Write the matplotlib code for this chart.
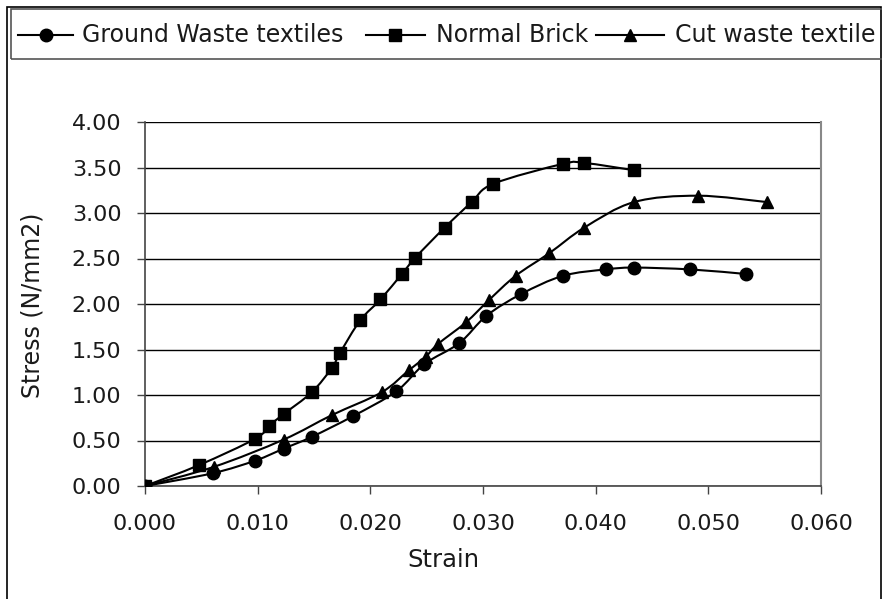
import numpy as np
import matplotlib
matplotlib.use('Agg')
import matplotlib.pyplot as plt
from matplotlib.path import Path
from matplotlib.patches import PathPatch, Rectangle
from matplotlib.lines import Line2D

plt.rcParams['font.family'] = ['DejaVu Sans']

# data
ground_strain = [0.0, 0.0060, 0.0098, 0.0123, 0.0148, 0.0185, 0.0223, 0.0248,
                 0.0279, 0.0303, 0.0334, 0.0371, 0.0409, 0.0434, 0.0484, 0.0533]
ground_stress = [0.0, 0.14, 0.28, 0.41, 0.54, 0.77, 1.04, 1.34,
                 1.57, 1.87, 2.11, 2.31, 2.38, 2.40, 2.38, 2.33]

brick_strain = [0.0, 0.0048, 0.0098, 0.0110, 0.0123, 0.0148, 0.0166, 0.0173, 0.0191,
                0.0209, 0.0228, 0.0240, 0.0266, 0.0290, 0.0309, 0.0371, 0.0390, 0.0434]
brick_stress = [0.0, 0.23, 0.52, 0.66, 0.79, 1.03, 1.30, 1.46, 1.82,
                2.05, 2.33, 2.51, 2.84, 3.12, 3.32, 3.54, 3.55, 3.47]

cut_strain = [0.0, 0.0061, 0.0123, 0.0166, 0.0210, 0.0234, 0.0249, 0.0260,
              0.0285, 0.0305, 0.0329, 0.0359, 0.0390, 0.0434, 0.0491, 0.0552]
cut_stress = [0.0, 0.21, 0.51, 0.78, 1.03, 1.27, 1.42, 1.56,
              1.80, 2.04, 2.31, 2.56, 2.84, 3.12, 3.19, 3.12]

series_names = ['Ground Waste textiles', 'Normal Brick', 'Cut waste textile']
series_markers = ['o', 's', '^']

x_ticks = [0.0, 0.01, 0.02, 0.03, 0.04, 0.05, 0.06]
y_ticks = [0.0, 0.5, 1.0, 1.5, 2.0, 2.5, 3.0, 3.5, 4.0]

W, H = 882, 599


def fx(px):
    return px / W


def fy(py):
    return 1 - py / H


def smooth_path(x, y):
    # smoothed line like the spreadsheet "smoothed line" option
    p = np.column_stack([x, y]).astype(float)
    ext = np.vstack([p[0], p, p[-1]])
    verts = [p[0]]
    codes = [Path.MOVETO]
    for i in range(len(p) - 1):
        p0, p1, p2, p3 = ext[i], ext[i + 1], ext[i + 2], ext[i + 3]
        c1 = p1 + (p2 - p0) / 6.0
        c2 = p2 - (p3 - p1) / 6.0
        verts += [c1, c2, p2]
        codes += [Path.CURVE4] * 3
    return Path(verts, codes)


fig = plt.figure(figsize=(W / 100, H / 100), dpi=100)
ax = fig.add_axes([fx(145), fy(486), (821 - 145) / W, (486 - 122) / H])

data = [(ground_strain, ground_stress), (brick_strain, brick_stress), (cut_strain, cut_stress)]
for (xs, ys), m in zip(data, series_markers):
    ax.add_patch(PathPatch(smooth_path(xs, ys), facecolor='none', edgecolor='black',
                           lw=1.5, zorder=3))
    ax.plot(xs, ys, linestyle='none', marker=m, color='black', markersize=9, zorder=4)

ax.set_xlim(0, 0.06)
ax.set_ylim(0, 4.0)
ax.set_xticks(x_ticks)
ax.set_xticklabels(['%.3f' % v for v in x_ticks])
ax.set_yticks(y_ticks)
ax.set_yticklabels(['%.2f' % v for v in y_ticks])
ax.grid(axis='y', color='black', lw=1.0)
ax.set_axisbelow(True)
for s in ['left', 'bottom']:
    ax.spines[s].set_color('#444444')
    ax.spines[s].set_linewidth(1.2)
ax.spines['right'].set_color('#888888')
ax.spines['right'].set_linewidth(1.5)
ax.spines['top'].set_visible(False)
ax.tick_params(axis='both', direction='out', length=6, width=1, color='#444444',
               labelsize=16, labelcolor='#1a1a1a')
ax.tick_params(axis='y', pad=11)
ax.tick_params(axis='x', pad=14)

fig.text(fx(33), fy(305), 'Stress (N/mm2)', rotation=90, ha='center', va='center',
         fontsize=17, color='#1a1a1a')
fig.text(fx(443), fy(560), 'Strain', ha='center', va='center', fontsize=17.5, color='#1a1a1a')

# outer chart border
fig.add_artist(Rectangle((fx(6.5), -0.05), fx(880.5) - fx(6.5), fy(7) + 0.05,
                         transform=fig.transFigure, fill=False, edgecolor='black', lw=1.2))
# legend box
fig.add_artist(Rectangle((fx(10.7), fy(59.3)), fx(890) - fx(10.7), fy(9.3) - fy(59.3),
                         transform=fig.transFigure, fill=False, edgecolor='#555555', lw=1.2))

legend_y = fy(34.7)
legend_items = [(18, 73, 81.5), (365.6, 424.6, 436), (596, 663.7, 675)]
for (x0, x1, xt), name, m in zip(legend_items, series_names, series_markers):
    fig.add_artist(Line2D([fx(x0), fx(x1)], [legend_y, legend_y], color='black', lw=1.5,
                          transform=fig.transFigure))
    fig.add_artist(Line2D([fx((x0 + x1) / 2)], [legend_y], marker=m, color='black',
                          markersize=9, transform=fig.transFigure))
    fig.text(fx(xt), legend_y, name, ha='left', va='center', fontsize=17, color='#1a1a1a')

fig.savefig('out.png', dpi=100)
